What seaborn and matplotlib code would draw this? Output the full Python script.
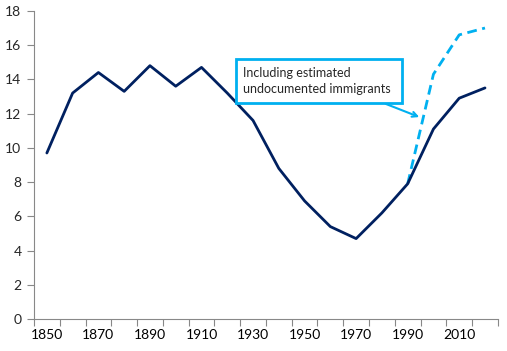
import pandas as pd
import seaborn as sns
import matplotlib.pyplot as plt
from matplotlib.ticker import MultipleLocator, FixedLocator

sns.set_style("ticks")
plt.rcParams['font.family'] = ['Lato', 'DejaVu Sans']

years = [1850, 1860, 1870, 1880, 1890, 1900, 1910, 1920, 1930,
         1940, 1950, 1960, 1970, 1980, 1990, 2000, 2010, 2020]
share = [9.7, 13.2, 14.4, 13.3, 14.8, 13.6, 14.7, 13.2, 11.6,
         8.8, 6.9, 5.4, 4.7, 6.2, 7.9, 11.1, 12.9, 13.5]
undoc_years = [1990, 2000, 2010, 2020]
undoc_share = [7.9, 14.3, 16.6, 17.0]
label_years = [1850, 1870, 1890, 1910, 1930, 1950, 1970, 1990, 2010]

navy = "#002060"
light = "#00B0F0"

fig = plt.figure(figsize=(5.07, 3.51), dpi=100)
ax = fig.add_axes([0.067, 0.091, 0.915, 0.878])

sns.lineplot(x=undoc_years, y=undoc_share, ax=ax, color=light, lw=2,
             linestyle=(0, (3.5, 2)))
sns.lineplot(x=years, y=share, ax=ax, color=navy, lw=2)

ax.set_xlim(1845, 2025)
ax.set_ylim(0, 18)
ax.yaxis.set_major_locator(MultipleLocator(2))
ax.xaxis.set_major_locator(FixedLocator(label_years))
ax.xaxis.set_minor_locator(MultipleLocator(10, offset=5))
ax.tick_params(axis="x", which="major", length=0, labelsize=10, pad=7, colors="black")
ax.tick_params(axis="x", which="minor", length=5, color="#888888", width=0.8)
ax.tick_params(axis="y", length=5, color="#888888", width=0.8, labelsize=10, pad=4)
for s in ["left", "bottom"]:
    ax.spines[s].set_color("#888888")
    ax.spines[s].set_linewidth(0.8)
sns.despine(ax=ax)

ax.annotate("Including estimated\nundocumented immigrants ",
            xy=(1994.5, 11.8), xytext=(1926.2, 13.9),
            fontsize=9, ha="left", va="center", linespacing=1.45,
            bbox=dict(boxstyle="square,pad=0.6", fc="white", ec=light, lw=2),
            arrowprops=dict(arrowstyle="->", color=light, lw=1.5,
                            shrinkA=0, shrinkB=0, relpos=(0.8, 0)))

fig.savefig("out.png", dpi=100)
